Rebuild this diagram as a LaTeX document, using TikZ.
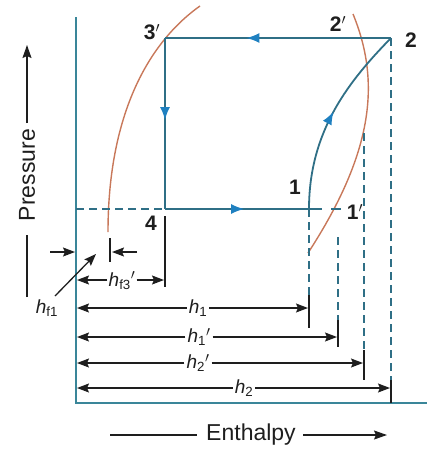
\documentclass[tikz,border=0pt]{standalone}
\usepackage{fontspec}
\setmainfont{Liberation Sans}
\usetikzlibrary{arrows.meta,decorations.markings}
\definecolor{cyc}{HTML}{2F6F86}
\definecolor{tipc}{HTML}{1F80C0}
\definecolor{axc}{HTML}{3A8699}
\definecolor{satc}{HTML}{C8785A}
\definecolor{dimc}{HTML}{1E1E1E}
\newcommand{\hsym}[2]{\textit{h}\textsubscript{#1}#2}
\tikzset{
  cycleline/.style={draw=cyc, line width=1.8pt},
  midarrow/.style={postaction={decorate, decoration={markings,
     mark=at position #1 with {\arrow[tipc]{Latex[length=13pt,width=10pt]}}}}},
  axisline/.style={draw=axc, line width=2.2pt},
  satline/.style={draw=satc, line width=1.4pt},
  dashline/.style={draw=cyc, line width=1.4pt, dash pattern=on 8pt off 5pt},
  dimline/.style={draw=dimc, line width=1.3pt},
  dimarrow/.style={dimline, -{Stealth[length=12pt,width=9pt,inset=2pt]}},
  ptlabel/.style={text=dimc, font=\fontsize{21}{24}\selectfont\bfseries, inner sep=1pt},
  hlabel/.style={text=dimc, font=\fontsize{19}{22}\selectfont, inner sep=2pt},
  axlabel/.style={text=dimc, font=\fontsize{23}{26}\selectfont, inner sep=2pt}
}
\begin{document}
\begin{tikzpicture}[x=1pt,y=-1pt]
\useasboundingbox (0,0) rectangle (427,450);
% axes
\coordinate (O) at (76,403);
\coordinate (Ytop) at (76,17);
\coordinate (Xend) at (427,403);
\draw[axisline] (Ytop) -- (O) -- (Xend);
% cycle points
\coordinate (p3) at (165,38);
\coordinate (p2) at (391,38);
\coordinate (p4) at (165,209);
\coordinate (p1) at (309,209);
% saturation curves
\coordinate (Lt) at (200,6);
\coordinate (Lb) at (108,232);
\coordinate (Rt) at (353,14);
\coordinate (Rb) at (308,253);
\draw[satline] (Lt) .. controls (145,45) and (108,120) .. (Lb);
\draw[satline] (Rt) .. controls (380,80) and (375,150) .. (Rb);
% dashed extensions
\coordinate (a4) at (76,209);
\draw[dashline] (a4) -- (p4);
\coordinate (e1) at (322,209);
\coordinate (e2) at (331,209);
\coordinate (e3) at (341,209);
\draw[cycleline] (p1) -- (e1);
\draw[cycleline] (e2) -- (e3);
% cycle
\draw[cycleline, midarrow=0.64] (p2) -- (p3);
\draw[cycleline, midarrow=0.48] (p3) -- (p4);
\draw[cycleline, midarrow=0.55] (p4) -- (p1);
\draw[cycleline, midarrow=0.52] (p1) .. controls (309,130) and (350,80) .. (p2);
% vertical projections
\coordinate (v4t) at (165,216);
\coordinate (v4) at (165,287);
\draw[dimline] (v4t) -- (v4);
\coordinate (vf1a) at (110,238);
\coordinate (vf1b) at (110,262);
\draw[dimline] (vf1a) -- (vf1b);
\coordinate (v1a) at (309,295);
\coordinate (v1b) at (309,328);
\draw[dashline] (p1) -- (v1a);
\draw[dimline] (v1a) -- (v1b);
\coordinate (v1pt) at (338,237);
\coordinate (v1pa) at (338,320);
\coordinate (v1pb) at (338,347);
\draw[dashline] (v1pt) -- (v1pa);
\draw[dimline] (v1pa) -- (v1pb);
\coordinate (v2pt) at (364,133);
\coordinate (v2pa) at (364,350);
\coordinate (v2pb) at (364,380);
\draw[dashline] (v2pt) -- (v2pa);
\draw[dimline] (v2pa) -- (v2pb);
\coordinate (v2a) at (391,380);
\coordinate (v2b) at (391,403);
\draw[dashline] (p2) -- (v2a);
\draw[dimline] (v2a) -- (v2b);
% point labels
\node[ptlabel] (l3) at (152,32) {3$'$};
\node[ptlabel] (l2p) at (338,24) {2$'$};
\node[ptlabel] (l2) at (411,40) {2};
\node[ptlabel] (l1) at (295,187) {1};
\node[ptlabel] (l1p) at (355,212) {1$'$};
\node[ptlabel] (l4) at (151,223) {4};
% h_f1
\coordinate (f1L) at (50,252);
\coordinate (f1Lt) at (75,252);
\coordinate (f1R) at (137,252);
\coordinate (f1Rt) at (112,252);
\draw[dimarrow] (f1L) -- (f1Lt);
\draw[dimarrow] (f1R) -- (f1Rt);
\node[hlabel] (hf1) at (47,308) {\hsym{f1}{}};
\coordinate (ld1) at (55,296);
\coordinate (ld2) at (96,254);
\draw[dimarrow] (ld1) -- (ld2);
% h_f3'
\node[hlabel, inner sep=1pt] (hf3) at (122,281) {\hsym{f3}{$'$}};
\coordinate (f3L) at (77,280);
\coordinate (f3R) at (164,280);
\draw[dimarrow] (hf3.west |- f3L) -- (f3L);
\draw[dimarrow] (hf3.east |- f3R) -- (f3R);
% h1
\node[hlabel] (h1) at (198,308) {\hsym{1}{}};
\coordinate (h1L) at (77,308);
\coordinate (h1R) at (308,308);
\draw[dimarrow] (h1.west |- h1L) -- (h1L);
\draw[dimarrow] (h1.east |- h1R) -- (h1R);
% h1'
\node[hlabel] (h1p) at (199,337) {\hsym{1}{$'$}};
\coordinate (h1pL) at (77,337);
\coordinate (h1pR) at (337,337);
\draw[dimarrow] (h1p.west |- h1pL) -- (h1pL);
\draw[dimarrow] (h1p.east |- h1pR) -- (h1pR);
% h2'
\node[hlabel] (h2p) at (198,363) {\hsym{2}{$'$}};
\coordinate (h2pL) at (77,363);
\coordinate (h2pR) at (363,363);
\draw[dimarrow] (h2p.west |- h2pL) -- (h2pL);
\draw[dimarrow] (h2p.east |- h2pR) -- (h2pR);
% h2
\node[hlabel] (h2) at (244,388) {\hsym{2}{}};
\coordinate (h2L) at (77,388);
\coordinate (h2R) at (390,388);
\draw[dimarrow] (h2.west |- h2L) -- (h2L);
\draw[dimarrow] (h2.east |- h2R) -- (h2R);
% axis labels
\node[axlabel, rotate=90] (pr) at (27,175) {Pressure};
\coordinate (prb) at (27,297);
\coordinate (prb2) at (27,235);
\coordinate (prt) at (27,123);
\coordinate (prtip) at (27,45);
\draw[dimline] (prb) -- (prb2);
\draw[dimline, -{Stealth[length=13pt,width=9pt,inset=2pt]}] (prt) -- (prtip);
\node[axlabel] (en) at (251,435) {Enthalpy};
\coordinate (enL) at (110,435);
\coordinate (enL2) at (197,435);
\coordinate (enR) at (303,435);
\coordinate (enTip) at (387,435);
\draw[dimline] (enL) -- (enL2);
\draw[dimline, -{Stealth[length=13pt,width=9pt,inset=2pt]}] (enR) -- (enTip);
\end{tikzpicture}
\end{document}
